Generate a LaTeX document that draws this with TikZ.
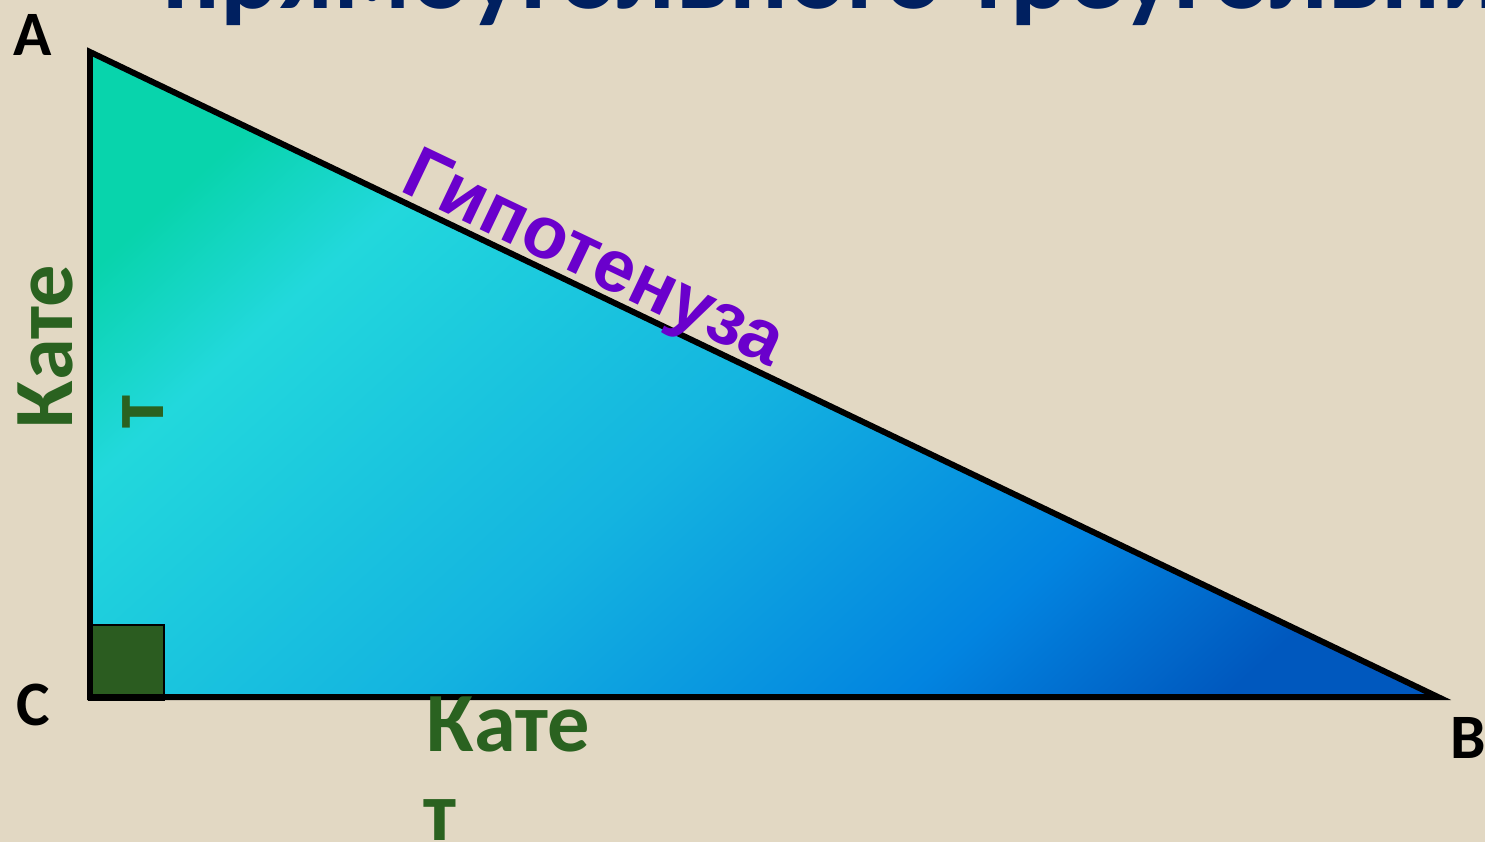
\documentclass[tikz,border=0pt]{standalone}
\usepackage{fontspec}
\setmainfont{Carlito}
\newfontfamily\hypfont{Liberation Sans}
\usepackage{xcolor}
\usetikzlibrary{positioning}

\definecolor{linen}{HTML}{E2D8C3}
\definecolor{titleNavy}{HTML}{002060}
\definecolor{legGreen}{HTML}{2A6220}
\definecolor{squareGreen}{HTML}{2B5C20}
\definecolor{hypViolet}{HTML}{6A00CC}
\definecolor{fillTeal}{HTML}{08D4AC}
\definecolor{fillCyan}{HTML}{22D8DC}
\definecolor{fillSky}{HTML}{14B4E0}
\definecolor{fillBlue}{HTML}{0284E0}
\definecolor{fillDeep}{HTML}{0058BE}

\pgfdeclarehorizontalshading{hypfill}{100bp}{color(0bp)=(fillTeal); color(23bp)=(fillTeal); color(31bp)=(fillCyan); color(50bp)=(fillSky); color(67bp)=(fillBlue); color(78bp)=(fillDeep); color(100bp)=(fillDeep)}

\tikzset{
	vertexlabel/.style={font=\bfseries\fontsize{18}{18}\selectfont, text=black, inner sep=0pt},
	leglabel/.style={font=\bfseries\fontsize{24}{24}\selectfont, text=legGreen, inner sep=0pt},
	hyplabel/.style={font=\hypfont\bfseries\fontsize{21}{21}\selectfont, text=hypViolet, inner sep=0pt},
	titletext/.style={font=\bfseries\fontsize{31}{31}\selectfont, text=titleNavy, inner sep=0pt},
	trianglepath/.style={draw=black, line width=1.7pt, line join=miter},
	rightmark/.style={draw=black, fill=squareGreen, line width=0.4pt}
}

\begin{document}
\begin{tikzpicture}
	% Background:
	\useasboundingbox (0, 0) rectangle (14.85, 8.42);
	\fill[linen] (0, 0) rectangle (14.85, 8.42);
	% Title (cut at the top):
	\begin{scope}
		\clip (0, 8.14) rectangle (14.85, 8.42);
		\node[titletext, anchor=base west] (title) at (1.62, 8.33){прямоугольного треугольника};
	\end{scope}
	% Triangle and right angle:
	\coordinate (A) at (0.90, 7.90);
	\coordinate (C) at (0.90, 1.45);
	\coordinate (B) at (14.38, 1.45);
	\shade[shading=hypfill, shading angle=-48] (A) -- (B) -- (C) -- cycle;
	\draw[rightmark] (0.89, 1.42) rectangle (1.64, 2.17);
	\draw[trianglepath] (A) -- (B) -- (C) -- cycle;
	% Vertex labels:
	\node[vertexlabel] (labA) at (0.33, 8.07){A};
	\node[vertexlabel] (labC) at (0.33, 1.37){C};
	\node[vertexlabel] (labB) at (14.68, 1.04){B};
	% Side labels:
	\node[hyplabel, anchor=base west, rotate=-25.5] (hyp) at (3.98, 6.52){Гипотенуза};
	\node[leglabel, anchor=base west, rotate=90] (legAC) at (0.72, 4.13){Кате};
	\node[leglabel, anchor=base west, rotate=90] (legACt) at (1.63, 4.13){т};
	\node[leglabel, anchor=base west] (legCB) at (4.26, 0.91){Кате};
	\node[leglabel, anchor=base west] (legCBt) at (4.23, 0.02){т};
\end{tikzpicture}
\end{document}
